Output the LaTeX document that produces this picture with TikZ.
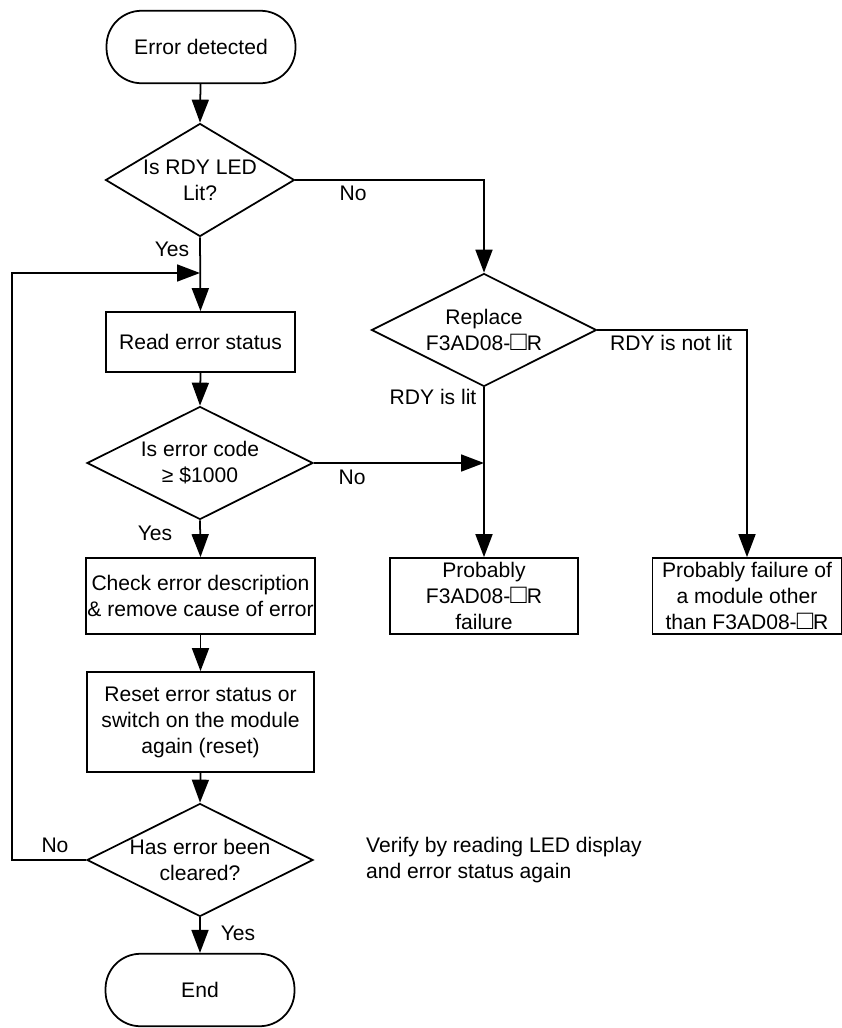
\documentclass[tikz,border=0pt]{standalone}
\usepackage{fontspec}
\setmainfont{Liberation Sans}
\usetikzlibrary{shapes.geometric,arrows.meta}

\newcommand{\blank}{{\fontsize{15.5}{14.8}\selectfont □}}

\tikzset{
  flow/.style={line width=1pt},
  arr/.style={flow, -{Triangle[length=4.6mm,width=3.4mm]}},
  terminal/.style={draw, flow, rectangle, rounded corners=0.7cm, minimum width=3.78cm, minimum height=1.45cm},
  process/.style={draw, flow, rectangle, align=center, inner sep=1pt},
  decision/.style={draw, flow, diamond, inner sep=0pt, minimum height=2.26cm},
}

\begin{document}
\begin{tikzpicture}[x=0.02cm, y=-0.02cm, font=\fontsize{12}{14.8}\selectfont]
  \useasboundingbox (0,0) rectangle (842,1028);
  % start / end
  \node[terminal] (start) at (201,47) {Error detected};
  \node[terminal] (stop) at (200,990) {End};
  % decisions
  \node[decision, minimum width=3.78cm, label={[align=center]center:Is RDY LED\\Lit?}] (rdy) at (200,180) {};
  \node[decision, minimum width=4.5cm, label={[align=center]center:Replace\\F3AD08-\blank R}] (repl) at (484,330) {};
  \node[decision, minimum width=4.52cm, label={[align=center]center:Is error code\\≥ \$1000}] (code) at (200,463) {};
  \node[decision, minimum width=4.52cm, label={[align=center]center:Has error been\\cleared?}] (clear) at (200,860) {};
  % process boxes
  \node[process, minimum width=3.78cm, minimum height=1.2cm] (read) at (200.5,342) {Read error status};
  \node[process, minimum width=4.54cm, minimum height=1.52cm] (check) at (200.5,596) {Check error description\\\& remove cause of error};
  \node[process, minimum width=4.54cm, minimum height=2cm] (reset) at (200.5,722) {Reset error status or\\switch on the module\\again (reset)};
  \node[process, minimum width=3.76cm, minimum height=1.52cm] (fail1) at (484,596) {Probably\\F3AD08-\blank R\\failure};
  \node[process, minimum width=3.78cm, minimum height=1.52cm] (fail2) at (747,596) {Probably failure of\\a module other\\than F3AD08-\blank R};
  % connectors
  \coordinate (join) at (484,463);
  \coordinate (back) at (200,273);
  \draw[arr] (start) -- (rdy.north);
  \draw[arr] (rdy.south) -- (read.north);
  \draw[arr] (rdy.east) -| (repl.north);
  \draw[arr] (repl.east) -| (fail2.north);
  \draw[arr] (repl.south) -- (fail1.north);
  \draw[arr] (read.south) -- (code.north);
  \draw[arr] (code.east) -- (join);
  \draw[arr] (code.south) -- (check.north);
  \draw[arr] (check.south) -- (reset.north);
  \draw[arr] (reset.south) -- (clear.north);
  \draw[arr] (clear.west) -- (12,860) |- (back);
  \draw[arr] (clear.south) -- (stop.north);
  % labels
  \node at (353,193) {No};
  \node at (172,249) {Yes};
  \node at (671,343) {RDY is not lit};
  \node at (433,397) {RDY is lit};
  \node at (352,477) {No};
  \node at (155,533) {Yes};
  \node at (55,845) {No};
  \node at (238,933) {Yes};
  \node[anchor=west, align=left] (note) at (360,860) {Verify by reading LED display\\and error status again};
\end{tikzpicture}
\end{document}
